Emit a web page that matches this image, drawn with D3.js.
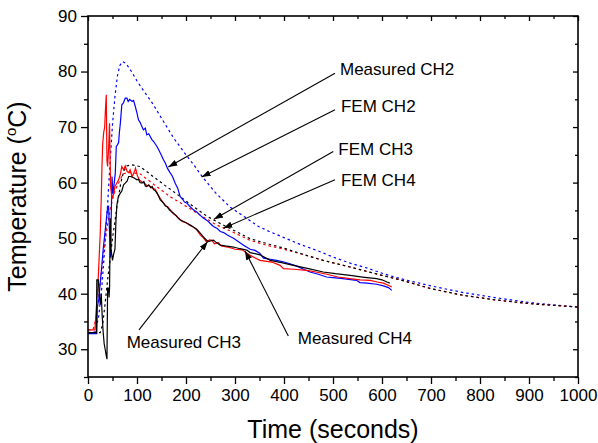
<!DOCTYPE html>
<html><head><meta charset="utf-8">
<script src="https://cdn.jsdelivr.net/npm/d3@7"></script>
<style>
body{margin:0;background:#fff}
text{font-family:Arial,"Liberation Sans",Helvetica,sans-serif;fill:#000}
</style>
</head><body>
<svg id="chart" width="598" height="443"></svg>
<script>
// ---------- data (time in s, temperature in °C) ----------
const measuredCH2 = [[0,32.8],[18,32.8],[19,37.6],[22,39],[25,42],[28,44.8],[31,48],[34,50.5],[37,53],[40,55.5],[42,55.7],[44,51],[46,46.6],[47,52],[49,61.1],[51,58],[53,59.5],[55.7,61.7],[57.7,66.5],[60,66.8],[62.5,67.2],[64,69],[66,70.7],[69,74.0],[72,74.3],[76,75.2],[79.5,75.2],[82,74.6],[85,75.0],[90,74.6],[93,74.8],[96.5,73.7],[100,72.5],[103,71.3],[106,70.9],[110,70.1],[113,69.5],[117,69.8],[120,68.6],[124,68.8],[127,68.3],[130,67.8],[134,67.4],[137,67.0],[140.7,66.5],[145,65.8],[150,64.9],[154,64.1],[158,63.5],[162,62.6],[168,61.7],[172,61.2],[178,59.9],[183,59.0],[188,57.5],[193,57.0],[197,56.5],[202,56.3],[208,55.7],[215,55.1],[222,54.7],[229,54.1],[236,53.6],[243,53.2],[250,52.6],[256,52.1],[263,51.8],[270,51.2],[277,51.0],[283.5,50.6],[290,50.3],[297,50.0],[305,49.5],[313,49.0],[320,48.6],[331,48.0],[341,47.8],[351,47.25],[358,46.4],[372,46.2],[385,46.0],[400,45.7],[412,45.4],[425,45.0],[440,44.4],[453,43.9],[470,43.5],[487,43.0],[500,42.9],[520,42.7],[548,42.4],[555,42.0],[570,41.9],[589,41.7],[603,41.4],[613,41.1],[620,40.6]];

const measuredCH3 = [[0,33.0],[17,33.0],[18,42.5],[21,42.5],[23,40],[25,38],[27,40],[29,36],[31,33],[33,31],[35,30],[37,29],[38.7,28.2],[40,41],[42,41],[43,39.3],[44,41],[45.5,53.6],[47,48],[50,46],[52,47],[55,48],[57,53],[59,56],[62,57.5],[66,58.1],[69,58.5],[72.6,59.6],[76,59.9],[80,60.3],[83,61.1],[87,61.1],[90,61.0],[95,60.8],[100,60.5],[103,60.6],[106,60.0],[110,59.9],[114,60.2],[117,59.4],[120,59.3],[124,59.6],[128,59.1],[131,59.3],[134,58.7],[137,58.6],[140.7,58.1],[144,57.6],[147.5,56.9],[151,56.6],[154,56.3],[158,55.8],[162,55.6],[166,55.1],[170,54.8],[174.6,54.5],[180,54.0],[184,53.6],[188,53.3],[195,53.0],[202,52.7],[208,52.4],[215,52.0],[222,51.6],[229,50.9],[236,50.2],[240,49.8],[245,49.4],[250,49.5],[256,49.65],[262,49.2],[270,48.75],[280,48.6],[297,48.4],[310,48.1],[324,47.85],[331,47.4],[351,47.0],[372,46.0],[395,45.6],[419,45.1],[450,44.5],[480,43.9],[505,43.6],[535,43.3],[560,43.0],[589,42.7],[600,42.5],[610,42.1],[616,41.9]];

const measuredCH4 = [[0,33.5],[14,33.5],[16,36],[19.6,40.6],[22,45],[25,50.9],[27,57],[28.5,62.9],[30,67],[32,69],[34,70],[35.5,73],[37.3,75.8],[38.2,68],[38.7,64],[40,62.9],[42,66],[44,70.7],[45,65],[46,59.3],[49,57.2],[52,57.8],[55,59.3],[58,59.8],[62.5,60.5],[66,61.5],[69,62.9],[72.7,62.3],[76,63.0],[80,62.0],[83,61.8],[86,62.3],[90,61.1],[94,61.8],[97,62.6],[101,61.2],[105,60.5],[110,60.1],[115,59.9],[120,59.5],[126,59.4],[131,59.0],[137,58.8],[142,58.0],[147,57.2],[152,56.6],[158,55.9],[163,55.6],[168,55.1],[174,54.4],[180,54.1],[186,53.5],[192,53.0],[200,52.8],[208,52.3],[215,52.0],[222,51.5],[229,50.6],[236,50.0],[242,49.3],[248,49.7],[253,49.6],[258,49.0],[266,49.2],[272,48.6],[285,48.4],[300,48.0],[315,47.9],[322,47.4],[331,46.9],[351,46.0],[375,45.7],[392,45.1],[399,44.5],[420,44.4],[446.6,44.2],[465,43.9],[487.6,43.5],[510,43.0],[535,42.7],[555,42.5],[576,42.4],[590,42.1],[603,41.9],[616,41.4],[620,41.2]];

const femCH2 = [[0,33],[15,33.1],[22,36],[28,41],[34,48],[40,56],[45,63.5],[50,70.5],[55,75.5],[60,79.2],[65,81.1],[71,81.8],[78,81.4],[88,80.1],[100,78.3],[113,76.6],[130,74.5],[150,71.6],[175,68.0],[200,65.0],[215,63.3],[232,61.2],[260,58.2],[290,55.6],[320,53.8],[348,52.1],[370,51.2],[400,50.1],[435,48.8],[470,47.7],[500,46.6],[535,45.5],[570,44.6],[603,43.6],[630,42.9],[657,42.3],[700,41.4],[766,40.2],[830,39.3],[902,38.4],[950,38.0],[1000,37.6]];

const femCH3 = [[0,33],[25,33],[30,34.5],[35,38.3],[40,42.5],[45.5,46.5],[50,50],[55,53],[59,55.7],[62.5,57.5],[67,60],[72.7,62],[79,63.0],[90,63.2],[106,62.9],[133,61.1],[160,59.3],[188,57.5],[215,55.7],[242,54.0],[262,53.0],[280,52.2],[300,51.3],[331,49.9],[370,48.9],[400,48.2],[433,47.25],[480,46.0],[535,44.8],[600,43.3],[637,42.5],[700,40.9],[766,39.7],[830,38.9],[902,38.2],[950,37.9],[1000,37.6]];

const femCH4 = [[0,33.5],[10,33.5],[15,35],[20,38],[25,42],[30,46],[35,49.5],[40,52.5],[45,55],[50,57],[55,58.5],[60,59.5],[67,60.8],[72,61.6],[85,61.8],[106,61.6],[140,59.3],[167,57.5],[201,55.7],[228,54.2],[262,52.4],[280,51.7],[300,50.9],[331,49.6],[370,48.6],[400,48.0],[433,47.2],[480,46.0],[535,44.8],[600,43.3],[637,42.5],[700,40.9],[766,39.7],[830,38.9],[902,38.2],[950,37.9],[1000,37.6]];

const xTicks = [0,100,200,300,400,500,600,700,800,900,1000];
const xMinor = [50,150,250,350,450,550,650,750,850,950];
const yTicks = [30,40,50,60,70,80,90];
const yMinor = [25,35,45,55,65,75,85];

const labels = ["Measured CH2","FEM CH2","FEM CH3","FEM CH4","Measured CH3","Measured CH4"];
// text anchor, arrow tail, arrow tip — in data units
const labelPos = [[514.3,79.4],[516.3,72.8],[510.8,65.0],[516.3,59.4],[79.0,30.2],[428.0,30.9]];
const arrowFrom = [[504.1,79.7],[504.1,73.1],[500.6,65.6],[504.1,60.5],[104.1,33.5],[408.8,32.4]];
const arrowTo = [[163.9,62.8],[232.0,61.0],[257.1,53.4],[276.1,51.8],[244.3,49.4],[320.4,47.7]];

// ---------- layout ----------
const svg = d3.select("#chart");
const L = 88, R = 578, T = 16, B = 377;
const x = d3.scaleLinear().domain([0,1000]).range([L,R]);
const y = d3.scaleLinear().domain([25,90]).range([B,T]);

const line = d3.line().x(d=>x(d[0])).y(d=>y(d[1]));

const series = [
  {d: femCH2, c:"#0000ff", dash:"2.5,3"},
  {d: femCH4, c:"#ff0000", dash:"2.5,3"},
  {d: femCH3, c:"#000000", dash:"2.5,3"},
  {d: measuredCH2, c:"#0000ff", dash:null},
  {d: measuredCH4, c:"#ff0000", dash:null},
  {d: measuredCH3, c:"#000000", dash:null}
];
svg.append("g").selectAll("path").data(series).join("path")
  .attr("d", s=>line(s.d)).attr("fill","none")
  .attr("stroke", s=>s.c).attr("stroke-width",1.2)
  .attr("stroke-dasharray", s=>s.dash);

// frame
svg.append("rect").attr("x",L).attr("y",T).attr("width",R-L).attr("height",B-T)
  .attr("fill","none").attr("stroke","#000").attr("stroke-width",1.6);

// axes
const fs = 17;
const gx = svg.append("g").attr("transform",`translate(0,${B})`)
  .call(d3.axisBottom(x).tickValues(xTicks).tickSize(7).tickPadding(5).tickFormat(d3.format("d")));
const gxm = svg.append("g").attr("transform",`translate(0,${B})`)
  .call(d3.axisBottom(x).tickValues(xMinor).tickSize(4).tickFormat(""));
const gy = svg.append("g").attr("transform",`translate(${L},0)`)
  .call(d3.axisLeft(y).tickValues(yTicks).tickSize(7).tickPadding(4).tickFormat(d3.format("d")));
const gym = svg.append("g").attr("transform",`translate(${L},0)`)
  .call(d3.axisLeft(y).tickValues(yMinor).tickSize(4).tickFormat(""));
const gxt = svg.append("g").attr("transform",`translate(0,${T})`)
  .call(d3.axisTop(x).tickValues(xTicks).tickSizeInner(-5).tickSizeOuter(0).tickFormat(""));
const gxtm = svg.append("g").attr("transform",`translate(0,${T})`)
  .call(d3.axisTop(x).tickValues(xMinor).tickSizeInner(-3).tickSizeOuter(0).tickFormat(""));
const gyr = svg.append("g").attr("transform",`translate(${R},0)`)
  .call(d3.axisRight(y).tickValues(yTicks).tickSizeInner(-5).tickSizeOuter(0).tickFormat(""));
const gyrm = svg.append("g").attr("transform",`translate(${R},0)`)
  .call(d3.axisRight(y).tickValues(yMinor).tickSizeInner(-3).tickSizeOuter(0).tickFormat(""));
[gx,gxm,gy,gym,gxt,gxtm,gyr,gyrm].forEach(g=>{
  g.select(".domain").remove();
  g.selectAll(".tick line").attr("stroke","#000").attr("stroke-width",1.3);
  g.selectAll("text").attr("font-size",fs).attr("font-family","Arial, 'Liberation Sans', sans-serif").attr("fill","#000");
});

// axis titles
svg.append("text").attr("x",(L+R)/2).attr("y",438).attr("text-anchor","middle")
  .attr("font-size",25).text("Time (seconds)");
const yt = svg.append("text").attr("transform",`translate(26,${(T+B)/2}) rotate(-90)`)
  .attr("text-anchor","middle").attr("font-size",25);
yt.append("tspan").text("Temperature (");
yt.append("tspan").attr("font-size",15).attr("dy",-10).text("o");
yt.append("tspan").attr("dy",10).text("C)");

// annotations
svg.append("defs").append("marker").attr("id","ah").attr("viewBox","0 0 10 10")
  .attr("refX",10).attr("refY",5).attr("markerWidth",9).attr("markerHeight",9)
  .attr("markerUnits","userSpaceOnUse").attr("orient","auto")
  .append("path").attr("d","M0,1.5 L10,5 L0,8.5 Z").attr("fill","#000");
const ann = svg.append("g");
labels.forEach((lab,i)=>{
  ann.append("line").attr("x1",x(arrowFrom[i][0])).attr("y1",y(arrowFrom[i][1]))
    .attr("x2",x(arrowTo[i][0])).attr("y2",y(arrowTo[i][1]))
    .attr("stroke","#000").attr("stroke-width",1.1).attr("marker-end","url(#ah)");
  ann.append("text").attr("x",x(labelPos[i][0])).attr("y",y(labelPos[i][1]))
    .attr("font-size",17).text(lab);
});
</script>
</body></html>
